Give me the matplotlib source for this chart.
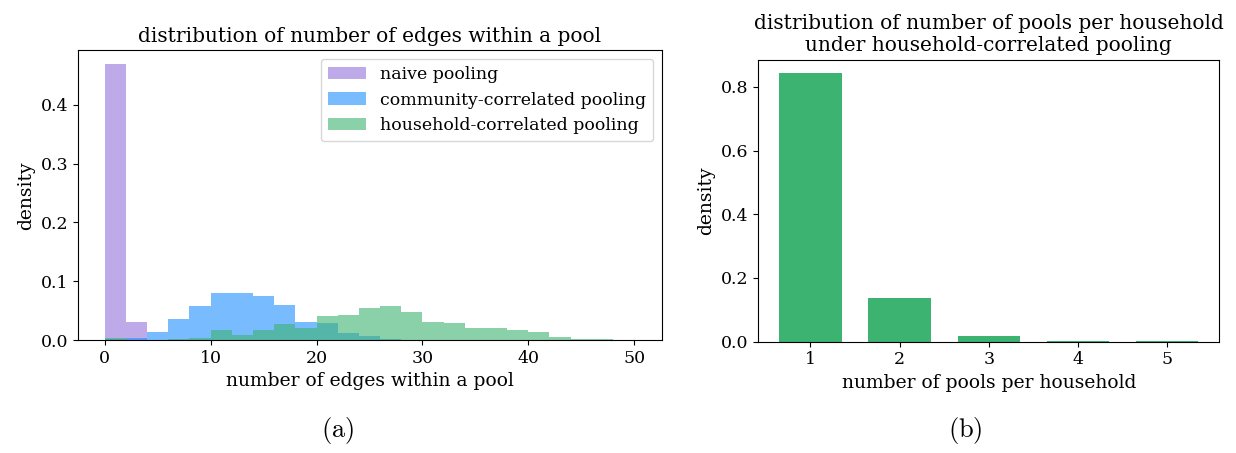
import numpy as np
import matplotlib.pyplot as plt

plt.rcParams['font.family'] = 'DejaVu Serif'
plt.rcParams['mathtext.fontset'] = 'cm'

# --- (a) histogram of edges within a pool, bins of width 2 starting at 0 ---
bin_width = 2
naive = [0.469, 0.031]
community = [0.002, 0.004, 0.014, 0.036, 0.058, 0.080, 0.080, 0.075, 0.060,
             0.031, 0.029, 0.012, 0.007, 0.002]
household = [0.004, 0.000, 0.001, 0.002, 0.004, 0.0176, 0.009, 0.0176, 0.028,
             0.021, 0.041, 0.043, 0.055, 0.058, 0.048, 0.031, 0.029, 0.021,
             0.021, 0.0176, 0.014, 0.006, 0.002, 0.002]
series_labels = ['naive pooling', 'community-correlated pooling',
                 'household-correlated pooling']

# --- (b) pools per household ---
pools = [1, 2, 3, 4, 5]
pool_density = [0.843, 0.137, 0.018, 0.001, 0.0005]

fig = plt.figure(figsize=(12.36, 4.53), dpi=100)
ax1 = fig.add_axes([0.0633, 0.249, 0.4721, 0.640])
ax2 = fig.add_axes([0.6135, 0.246, 0.3730, 0.622])

colors = ['mediumpurple', 'dodgerblue', 'mediumseagreen']
for vals, col, lab in zip([naive, community, household], colors, series_labels):
    left = np.arange(len(vals)) * bin_width
    ax1.bar(left, vals, width=bin_width, align='edge', color=col, alpha=0.6,
            label=lab)

ax1.set_xlim(-2.5, 52.6)
ax1.set_title('distribution of number of edges within a pool', fontsize=14.5)
ax1.set_xlabel('number of edges within a pool', fontsize=13.5)
ax1.set_ylabel('density', fontsize=13.5)
ax1.tick_params(labelsize=12.5)
ax1.legend(loc='upper right', fontsize=12.5, handlelength=2.2)

ax2.bar(pools, pool_density, width=0.7, color='mediumseagreen')
ax2.set_xticks(pools)
ax2.set_yticks([0.0, 0.2, 0.4, 0.6, 0.8])
ax2.set_title('distribution of number of pools per household\n'
              'under household-correlated pooling', fontsize=14.5,
              linespacing=1.2)
ax2.set_xlabel('number of pools per household', fontsize=13.5)
ax2.set_ylabel('density', fontsize=13.5)
ax2.tick_params(labelsize=12.5)

fig.text(0.2727, 0.035, r'$\mathrm{(a)}$', fontsize=19, ha='center')
fig.text(0.7808, 0.035, r'$\mathrm{(b)}$', fontsize=19, ha='center')

fig.savefig('out.png', dpi=100)
